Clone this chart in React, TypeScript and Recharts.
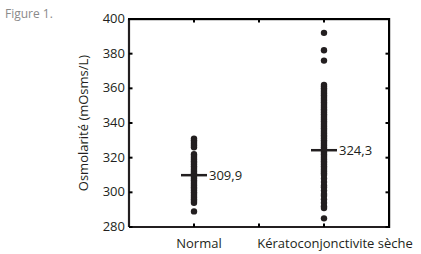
import React from "react";
import { ScatterChart, Scatter, XAxis, YAxis } from "recharts";

const CATEGORIES = ["Normal", "Kératoconjonctivite sèche"];

const NORMAL_VALUES = [
  331, 330, 329, 328, 327, 326, 322, 321, 320, 319, 318, 317, 316, 315, 314,
  313, 312, 311, 310, 309, 308, 307, 306, 305, 304, 303, 302, 301, 300, 299,
  298, 297, 296, 295, 294, 289,
];

const KERATO_VALUES = [
  392, 382, 376, 362, 361, 360, 359, 358, 357, 356, 355, 354, 353, 352, 351,
  350, 349, 348, 347, 346, 345, 344, 343, 342, 341, 340, 339, 338, 337, 336,
  335, 334, 333, 332, 331, 330, 329, 328, 327, 326, 325, 324, 323, 322, 321,
  320, 319, 318, 317, 316, 315, 314, 313, 312, 311, 310, 308, 306, 304, 303,
  301, 299, 298, 296, 294, 292, 291, 285,
];

const MEANS = [309.9, 324.3];

const Y_TICKS = [280, 300, 320, 340, 360, 380, 400];
const X_TICKS = [1, 1.5, 2];
const X_DOMAIN = [0.5, 2.5];
const Y_DOMAIN = [280, 400];

const INK = "#231f20";
const FONT = "'Open Sans', sans-serif";

// plot box size, used for the top/right frame and the mirrored inner ticks
const PLOT_W = 260;
const PLOT_H = 208;

const normalPoints = NORMAL_VALUES.map((v) => ({ x: 1, y: v }));
const keratoPoints = KERATO_VALUES.map((v) => ({ x: 2, y: v }));
const meanPoints = MEANS.map((m, i) => ({ x: i + 1, y: m }));

const Dot = (props: any) => {
  const { cx, cy } = props;
  return <circle cx={cx} cy={cy} r={3.2} fill={INK} />;
};

const MeanMark = (props: any) => {
  const { cx, cy, payload } = props;
  return (
    <g>
      <line x1={cx - 13} x2={cx + 13} y1={cy} y2={cy} stroke={INK} strokeWidth={2.5} />
      <text x={cx + 15} y={cy + 4.5} fontSize={13} fontFamily={FONT} fill={INK}>
        {payload.y.toFixed(1).replace(".", ",")}
      </text>
    </g>
  );
};

const BottomTick = (props: any) => {
  const { x, y, payload } = props;
  const idx = payload.value - 1;
  const label = Number.isInteger(payload.value) ? CATEGORIES[idx] : "";
  const shift = idx === 0 ? 5 : 11;
  return (
    <g>
      <path d={`M${x},${y}V${y - 3.5}`} stroke="#000000" strokeWidth={2} fill="none" />
      <path
        d={`M${x},${y - PLOT_H}V${y - PLOT_H + 3.5}`}
        stroke="#000000"
        strokeWidth={2}
        fill="none"
      />
      {label && (
        <text
          x={x + shift}
          y={y + 21}
          textAnchor="middle"
          fontSize={13}
          fontFamily={FONT}
          fill={INK}
        >
          {label}
        </text>
      )}
    </g>
  );
};

const LeftTick = (props: any) => {
  const { x, y, payload } = props;
  const isTop = Number(payload.value) === Y_DOMAIN[1];
  const isBottom = Number(payload.value) === Y_DOMAIN[0];
  return (
    <g>
      {isTop && (
        <rect x={x - 1} y={y - 1} width={PLOT_W + 2} height={2.2} fill="#000000" />
      )}
      {isBottom && (
        <rect x={x + PLOT_W - 1} y={y - PLOT_H - 1} width={2.2} height={PLOT_H + 2} fill="#000000" />
      )}
      <path d={`M${x},${y}H${x + 3.5}`} stroke="#000000" strokeWidth={2} fill="none" />
      <path
        d={`M${x + PLOT_W},${y}H${x + PLOT_W - 3.5}`}
        stroke="#000000"
        strokeWidth={2}
        fill="none"
      />
      <text
        x={x - 4}
        y={y + 4}
        textAnchor="end"
        fontSize={13}
        fontFamily={FONT}
        fill={INK}
      >
        {payload.value}
      </text>
    </g>
  );
};

const YTitle = () => (
  <text
    x={83}
    y={123}
    transform="rotate(-90 83 123)"
    textAnchor="middle"
    dominantBaseline="central"
    fontSize={13}
    fontFamily={FONT}
    fill={INK}
  >
    Osmolarité (mOsms/L)
  </text>
);

export default function App() {
  return (
    <div style={{ position: "absolute", left: 0, top: 0, width: 421, height: 254 }}>
      <ScatterChart
        width={421}
        height={254}
        margin={{ top: 19, right: 32, bottom: 0, left: 69 }}
      >
        <XAxis
          type="number"
          dataKey="x"
          domain={X_DOMAIN}
          ticks={X_TICKS}
          height={27}
          tickSize={0}
          tickMargin={0}
          tickLine={false}
          tick={<BottomTick />}
          axisLine={{ stroke: INK, strokeWidth: 2.2 }}
          interval={0}
        />
        <YAxis
          type="number"
          dataKey="y"
          domain={Y_DOMAIN}
          ticks={Y_TICKS}
          width={60}
          tickSize={0}
          tickMargin={0}
          tickLine={false}
          tick={<LeftTick />}
          axisLine={{ stroke: INK, strokeWidth: 2.2 }}
          interval={0}
          label={{ content: () => <YTitle /> }}
        />
        <Scatter data={normalPoints} shape={<Dot />} isAnimationActive={false} />
        <Scatter data={keratoPoints} shape={<Dot />} isAnimationActive={false} />
        <Scatter data={meanPoints} shape={<MeanMark />} isAnimationActive={false} />
      </ScatterChart>
      <div
        style={{
          position: "absolute",
          left: 5,
          top: 5,
          fontSize: 12,
          fontFamily: FONT,
          color: "#8a8a8a",
        }}
      >
        Figure 1.
      </div>
    </div>
  );
}
